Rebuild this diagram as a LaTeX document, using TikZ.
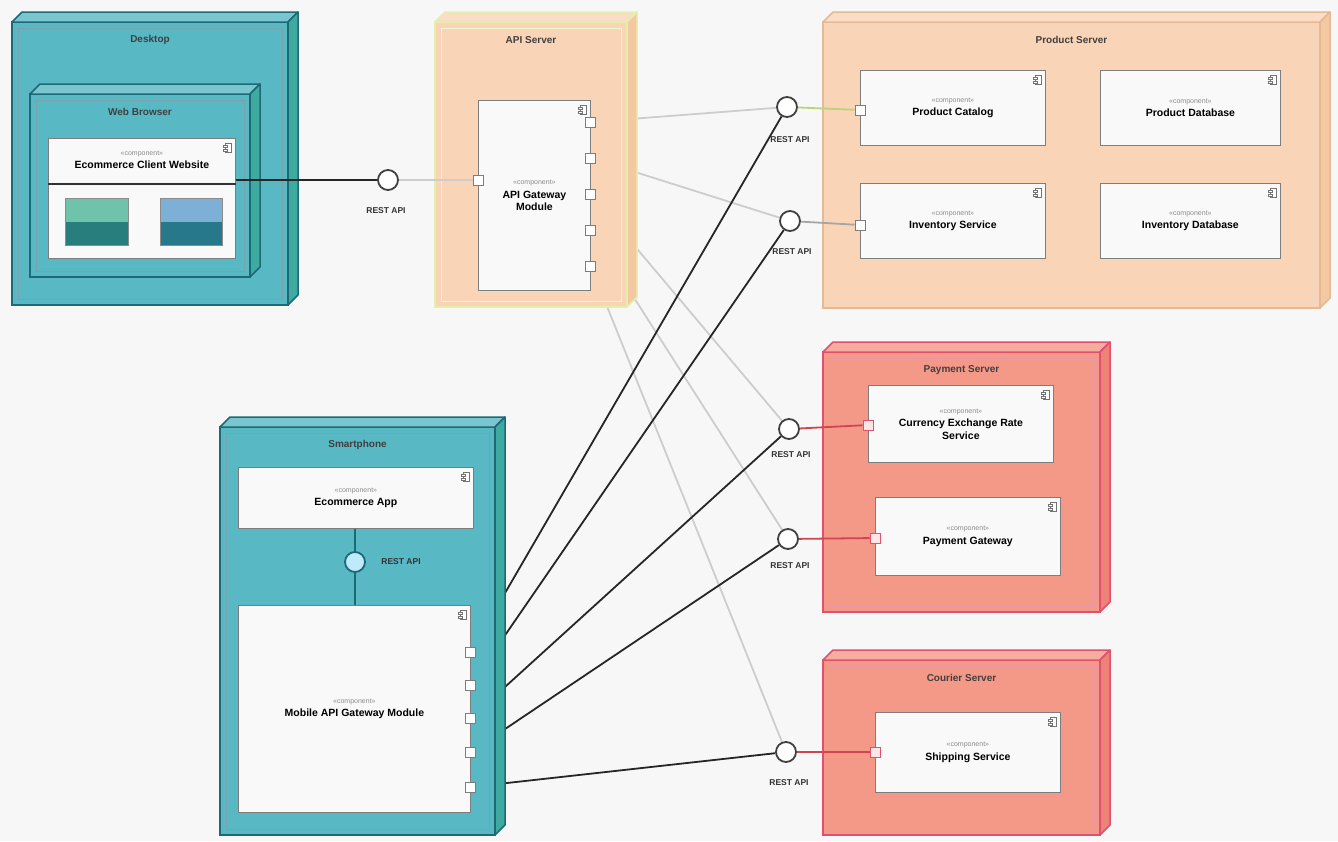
\documentclass[tikz,border=0pt]{standalone}
\usepackage{fontspec}
\setmainfont{Liberation Sans}
\usetikzlibrary{calc}
\pgfdeclarelayer{back}
\pgfsetlayers{back,main}
\definecolor{bg}{RGB}{247,247,247}
\definecolor{tealf}{RGB}{88,184,196}
\definecolor{teald}{RGB}{30,105,118}
\definecolor{tealside}{RGB}{62,170,160}
\definecolor{peach}{RGB}{250,212,182}
\definecolor{peachd}{RGB}{228,186,150}
\definecolor{peachside}{RGB}{244,200,160}
\definecolor{lime}{RGB}{226,240,170}
\definecolor{pinkf}{RGB}{244,152,136}
\definecolor{pinkd}{RGB}{222,82,112}
\definecolor{pinkside}{RGB}{236,130,120}
\definecolor{compf}{RGB}{249,249,249}
\definecolor{compd}{RGB}{125,125,125}
\definecolor{provc}{RGB}{205,205,205}
\definecolor{greenln}{RGB}{190,210,120}
\definecolor{redln}{RGB}{205,70,80}
\definecolor{sc1top}{RGB}{110,195,170}
\definecolor{sc1bot}{RGB}{40,125,125}
\definecolor{sc2top}{RGB}{125,175,215}
\definecolor{sc2bot}{RGB}{40,120,140}
\definecolor{shadowy}{RGB}{236,205,110}
\tikzset{
 comp/.style={draw=compd, fill=compf, line width=0.8pt, anchor=north west, inner sep=2pt, align=center, font=\fontsize{10.5}{12.5}\selectfont\bfseries},
 portbox/.style={draw=#1, fill=white, line width=1pt, minimum size=10pt, inner sep=0},
 portbox/.default=compd,
 iface/.style={circle, draw=black!75, fill=white, line width=1.8pt, minimum size=20pt, inner sep=0},
 ilabel/.style={font=\fontsize{8.5}{9}\selectfont\bfseries, text=black!80},
 ntitle/.style={font=\fontsize{10}{11}\selectfont\bfseries, text=black!75},
 cons/.style={draw=black!85, line width=1.8pt},
 prov/.style={draw=provc, line width=1.8pt},
}
\newcommand\stereo{{\fontsize{7}{8}\selectfont\mdseries\color{black!45}«component»}\\[1pt]}
\newcommand\cicon[1]{%
 \draw[black!55, line width=0.6pt, fill=white] ($(#1.north east)+(-11,5)$) rectangle ++(6,9);
 \draw[black!55, line width=0.6pt, fill=white] ($(#1.north east)+(-13,7)$) rectangle ++(4,2);
 \draw[black!55, line width=0.6pt, fill=white] ($(#1.north east)+(-13,11)$) rectangle ++(4,2);}
\newcommand\dnode[9]{%
 \node[draw=#7, fill=#6, line width=1.5pt, minimum width=#4pt, minimum height=#5pt, anchor=north west, inner sep=0, outer sep=0] (#1) at (#2,#3) {};
 \filldraw[fill=#6!80!white, draw=#7, line width=1.5pt, line join=round] (#1.north west) -- ++(10,-10) -- ($(#1.north east)+(10,-10)$) -- (#1.north east) -- cycle;
 \filldraw[fill=#8, draw=#7, line width=1.5pt, line join=round] (#1.north east) -- ++(10,-10) -- ($(#1.south east)+(10,-10)$) -- (#1.south east) -- cycle;
 \draw[#7!60, line width=0.6pt] ($(#1.north west)+(6,6)$) rectangle ($(#1.south east)+(-6,-6)$);
 \node[ntitle] (#1t) at ($(#1.north)+(0,18)$) {#9};}
\begin{document}
\begin{tikzpicture}[x=1pt,y=-1pt]
\useasboundingbox (0,0) rectangle (1338,841);
\begin{pgfonlayer}{back}
\fill[bg] (0,0) rectangle (1338,841);
\end{pgfonlayer}

% ---------- Desktop ----------
\dnode{desk}{12}{22}{276}{283}{tealf}{teald}{tealside}{Desktop}
\dnode{wb}{30}{94}{220}{183}{tealf}{teald}{tealside}{Web Browser}
\node[comp, minimum width=187pt, minimum height=120pt] (web) at (48,138) {};
\node[font=\fontsize{10.5}{12.5}\selectfont\bfseries, align=center] (webt) at ($(web.north)+(0,22)$) {\stereo Ecommerce Client Website};
\cicon{web}
\draw[black!80, line width=1.4pt] ($(web.north west)+(0,46)$) -- ($(web.north east)+(0,46)$);
\node[draw=black!45, fill=sc1top, line width=0.8pt, minimum width=63pt, minimum height=47pt, anchor=north west, inner sep=0] (sc1) at (65,198) {};
\fill[sc1bot] ($(sc1.west)+(0.5,0)$) rectangle ($(sc1.south east)+(-0.5,-0.5)$);
\node[draw=black!45, fill=sc2top, line width=0.8pt, minimum width=62pt, minimum height=47pt, anchor=north west, inner sep=0] (sc2) at (160,198) {};
\fill[sc2bot] ($(sc2.west)+(0.5,0)$) rectangle ($(sc2.south east)+(-0.5,-0.5)$);

% ---------- API Server ----------
\dnode{api}{435}{22}{192}{285}{peach}{lime}{peachside}{API Server}
\node[comp, minimum width=112pt, minimum height=190pt] (gw) at (478,100) {\stereo API Gateway\\Module};
\cicon{gw}
\node[portbox] (gpl) at (gw.west |- 0,180) {};
\node[portbox] (gp1) at (gw.east |- 0,122) {};
\node[portbox] (gp2) at (gw.east |- 0,158) {};
\node[portbox] (gp3) at (gw.east |- 0,194) {};
\node[portbox] (gp4) at (gw.east |- 0,230) {};
\node[portbox] (gp5) at (gw.east |- 0,266) {};

% ---------- Product Server ----------
\dnode{prod}{823}{22}{497}{286}{peach}{peachd}{peachside}{Product Server}
\node[comp, minimum width=185pt, minimum height=75pt] (pc) at (860,70) {\stereo Product Catalog};
\node[comp, minimum width=180pt, minimum height=75pt] (pd) at (1100,70) {\stereo Product Database};
\node[comp, minimum width=185pt, minimum height=75pt] (is) at (860,183) {\stereo Inventory Service};
\node[comp, minimum width=180pt, minimum height=75pt] (idb) at (1100,183) {\stereo Inventory Database};
\cicon{pc}\cicon{pd}\cicon{is}\cicon{idb}
\node[portbox] (pcp) at (pc.west |- 0,110) {};
\node[portbox] (isp) at (is.west |- 0,225) {};

% ---------- Payment Server ----------
\dnode{pay}{823}{352}{277}{260}{pinkf}{pinkd}{pinkside}{Payment Server}
\node[comp, minimum width=185pt, minimum height=77pt] (cer) at (868,385) {\stereo Currency Exchange Rate\\Service};
\node[comp, minimum width=185pt, minimum height=78pt] (pg) at (875,497) {\stereo Payment Gateway};
\cicon{cer}\cicon{pg}
\node[portbox=pinkd, fill=pink!40] (cerp) at (cer.west |- 0,425) {};
\node[portbox=pinkd, fill=pink!40] (pgp) at (pg.west |- 0,538) {};

% ---------- Courier Server ----------
\dnode{cour}{823}{660}{277}{175}{pinkf}{pinkd}{pinkside}{Courier Server}
\node[comp, minimum width=185pt, minimum height=80pt] (ss) at (875,712) {\stereo Shipping Service};
\cicon{ss}
\node[portbox=pinkd, fill=pink!40] (ssp) at (ss.west |- 0,752) {};

% ---------- Smartphone ----------
\dnode{mob}{220}{427}{275}{408}{tealf}{teald}{tealside}{Smartphone}
\node[comp, minimum width=235pt, minimum height=61pt] (app) at (238,467) {\stereo Ecommerce App};
\node[comp, minimum width=232pt, minimum height=207pt] (mgw) at (238,605) {\stereo Mobile API Gateway Module};
\cicon{app}\cicon{mgw}
\node[iface, fill=cyan!25, draw=teald] (ra6) at (355,562) {};
\node[ilabel, anchor=west] (ra6l) at ($(ra6.east)+(12,0)$) {REST API};
\draw[teald, line width=1.8pt] (app.south -| ra6) -- (ra6);
\draw[teald, line width=1.8pt] (ra6) -- (mgw.north -| ra6);
\node[portbox] (mp1) at (mgw.east |- 0,652) {};
\node[portbox] (mp2) at (mgw.east |- 0,685) {};
\node[portbox] (mp3) at (mgw.east |- 0,718) {};
\node[portbox] (mp4) at (mgw.east |- 0,752) {};
\node[portbox] (mp5) at (mgw.east |- 0,787) {};

% ---------- Interfaces ----------
\node[iface] (ra1) at (787,107) {};
\node[iface] (ra2) at (790,221) {};
\node[iface] (ra3) at (789,429) {};
\node[iface] (ra4) at (788,539) {};
\node[iface] (ra5) at (786,752) {};
\node[iface] (ra7) at (388,180) {};
\node[ilabel] (ra1l) at (790,140) {REST API};
\node[ilabel] (ra2l) at (792,252) {REST API};
\node[ilabel] (ra3l) at (791,455) {REST API};
\node[ilabel] (ra4l) at (790,566) {REST API};
\node[ilabel] (ra5l) at (789,783) {REST API};
\node[ilabel] (ra7l) at (386,211) {REST API};

% ---------- Connectors ----------
\begin{pgfonlayer}{back}
\draw[prov] (gp1) -- (ra1);
\draw[prov] (gp2) -- (ra2);
\draw[prov] (gp3) -- (ra3);
\draw[prov] (gp4) -- (ra4);
\draw[prov] (gp5) -- (ra5);
\draw[cons] (mp1) -- (ra1);
\draw[cons] (mp2) -- (ra2);
\draw[cons] (mp3) -- (ra3);
\draw[cons] (mp4) -- (ra4);
\draw[cons] (mp5) -- (ra5);
\end{pgfonlayer}
\draw[cons] (web.east |- ra7) -- (ra7);
\draw[prov] (ra7) -- (gpl);
\draw[greenln, line width=1.8pt] (ra1) -- (pcp);
\draw[black!35, line width=1.8pt] (ra2) -- (isp);
\draw[redln, line width=1.8pt] (ra3) -- (cerp);
\draw[redln, line width=1.8pt] (ra4) -- (pgp);
\draw[redln, line width=1.8pt] (ra5) -- (ssp);
\end{tikzpicture}
\end{document}
